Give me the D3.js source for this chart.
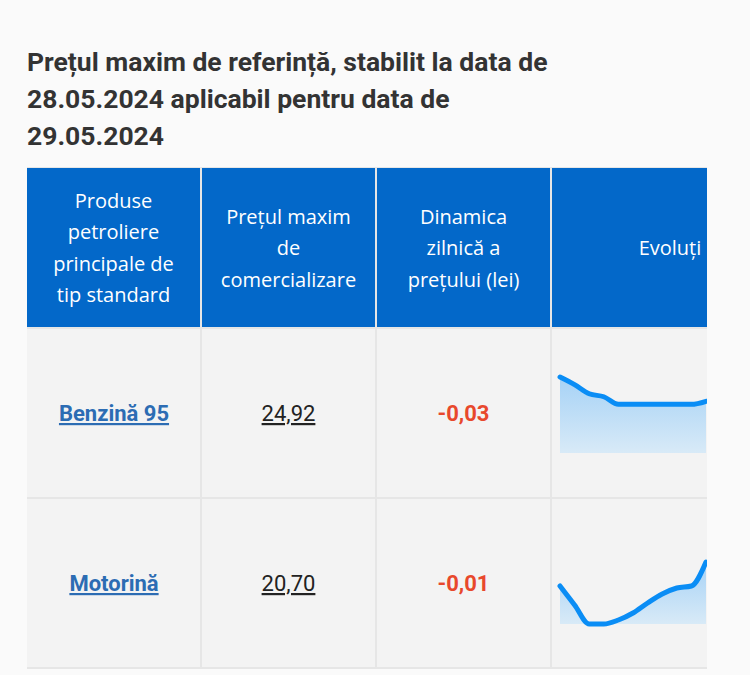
<!DOCTYPE html>
<html><head><meta charset="utf-8">
<script src="https://cdn.jsdelivr.net/npm/d3@7"></script>
<style>body{margin:0;background:#fafafa;}</style>
</head><body><div id="chart"></div>
<script>
// data
const titleLines = ["Prețul maxim de referință, stabilit la data de", "28.05.2024 aplicabil pentru data de", "29.05.2024"];
const headers = [
    ["Produse", "petroliere", "principale de", "tip standard"],
    ["Prețul maxim", "de", "comercializare"],
    ["Dinamica", "zilnică a", "prețului (lei)"],
    ["Evoluți"]
];
const products = ["Benzină 95", "Motorină"];
const prices = ["24,92", "20,70"];
const changes = ["-0,03", "-0,01"];
const benzinaSeries = [25.10, 25.05, 24.99, 24.97, 24.92, 24.92, 24.92, 24.92, 24.92, 24.92, 24.94];
const motorinaSeries = [20.69, 20.595, 20.50, 20.50, 20.52, 20.555, 20.605, 20.65, 20.68, 20.69, 20.81];
const seriesDomains = [[24.60, 25.10], [20.50, 20.81]];

const W = 750, H = 675;
const svg = d3.select("#chart").append("svg").attr("width", W).attr("height", H);

svg.append("g").selectAll("text").data(titleLines).enter().append("text")
    .attr("x", 27).attr("y", (d, i) => 71 + i * 37)
    .attr("font-family", "Roboto, sans-serif").attr("font-weight", 700)
    .attr("font-size", 26.5).attr("fill", "#333").text(d => d);

const colX = [27, 201, 376, 551, 707];
const headTop = 168, headBot = 328;
const rowY = [328, 498, 668];

svg.append("defs").append("clipPath").attr("id", "tbl")
    .append("rect").attr("x", 27).attr("y", 160).attr("width", 680).attr("height", 520);
const grad = svg.select("defs").append("linearGradient").attr("id", "g").attr("x1", 0).attr("x2", 0).attr("y1", 0).attr("y2", 1);
grad.append("stop").attr("offset", "0%").attr("stop-color", "#a6d2f6");
grad.append("stop").attr("offset", "100%").attr("stop-color", "#d8eaf7");

const t = svg.append("g").attr("clip-path", "url(#tbl)");
t.append("rect").attr("x", 26).attr("y", headTop - 1).attr("width", 690).attr("height", 502).attr("fill", "#e6e6e6");

// header cells
headers.forEach((lines, c) => {
    const x0 = colX[c] + (c ? 1 : 0), x1 = colX[c + 1] - 1;
    t.append("rect").attr("x", x0).attr("y", headTop).attr("width", (c === 3 ? 200 : x1 - x0)).attr("height", headBot - headTop - 1).attr("fill", "#0368c9");
    const cx = c === 3 ? 670 : (x0 + x1) / 2;
    const n = lines.length, mid = (headTop + headBot) / 2;
    t.append("g").selectAll("text").data(lines).enter().append("text")
        .attr("x", cx).attr("y", (d, i) => mid + (i - (n - 1) / 2) * 31.5 + 7)
        .attr("text-anchor", "middle").attr("font-family", "'Open Sans', sans-serif")
        .attr("font-size", 20).attr("fill", "#fff").text(d => d);
});

// body
products.forEach((p, r) => {
    const y0 = rowY[r] + 1, y1 = rowY[r + 1] - 1, cy = (y0 + y1) / 2;
    for (let c = 0; c < 4; c++) {
        const x0 = colX[c] + (c ? 1 : 0), x1 = colX[c + 1] - 1;
        t.append("rect").attr("x", x0).attr("y", y0).attr("width", c === 3 ? 200 : x1 - x0).attr("height", y1 - y0).attr("fill", "#f3f3f3");
    }
    t.append("text").attr("x", (colX[0] + colX[1]) / 2).attr("y", cy + 8).attr("text-anchor", "middle")
        .attr("font-family", "Roboto, sans-serif").attr("font-weight", 700).attr("font-size", 22)
        .attr("fill", "#2c6cb3").attr("text-decoration", "underline").text(p);
    t.append("text").attr("x", (colX[1] + colX[2]) / 2).attr("y", cy + 8).attr("text-anchor", "middle")
        .attr("font-family", "Roboto, sans-serif").attr("font-size", 22)
        .attr("fill", "#222").attr("text-decoration", "underline").text(prices[r]);
    t.append("text").attr("x", (colX[2] + colX[3]) / 2).attr("y", cy + 8).attr("text-anchor", "middle")
        .attr("font-family", "Roboto, sans-serif").attr("font-weight", 700).attr("font-size", 22)
        .attr("fill", "#e8482c").text(changes[r]);
});

// sparklines
const sparks = [
    {data: benzinaSeries, dom: seriesDomains[0], top: 377, base: 453},
    {data: motorinaSeries, dom: seriesDomains[1], top: 562, base: 624}
];
sparks.forEach(s => {
    const x = d3.scaleLinear().domain([0, s.data.length - 1]).range([560, 706]);
    const y = d3.scaleLinear().domain(s.dom).range([s.base, s.base - (s.base - (s === sparks[0] ? 377 : 562)) ]);
    const yy = s === sparks[0] ? d3.scaleLinear().domain(s.dom).range([453, 377]) : d3.scaleLinear().domain(s.dom).range([624, 562]);
    const area = d3.area().x((d, i) => x(i)).y0(s.base).y1(d => yy(d)).curve(d3.curveMonotoneX);
    const line = d3.line().x((d, i) => x(i)).y(d => yy(d)).curve(d3.curveMonotoneX);
    t.append("path").datum(s.data).attr("d", area).attr("fill", "url(#g)");
    t.append("path").datum(s.data).attr("d", line).attr("fill", "none")
        .attr("stroke", "#0a8df5").attr("stroke-width", 5).attr("stroke-linecap", "round");
});
</script></body></html>
